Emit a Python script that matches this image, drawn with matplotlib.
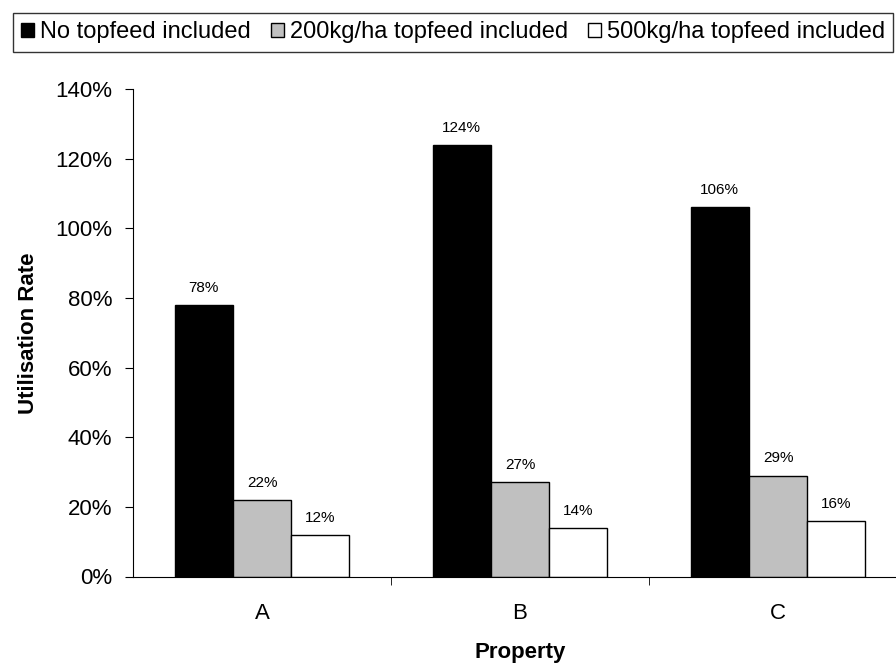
import matplotlib
matplotlib.use("Agg")
import matplotlib.pyplot as plt
import numpy as np
from matplotlib.ticker import PercentFormatter

plt.rcParams['font.family'] = ['Liberation Sans', 'DejaVu Sans']

categories = ["A", "B", "C"]
series_names = ["No topfeed included", "200kg/ha topfeed included", "500kg/ha topfeed included"]
no_topfeed = [78, 124, 106]
topfeed_200 = [22, 27, 29]
topfeed_500 = [12, 14, 16]
colors = ["#000000", "#c0c0c0", "#ffffff"]

fig = plt.figure(figsize=(8.96, 6.64), dpi=100)
ax = fig.add_axes([133/896, 1-576.5/664, 774/896, 487.5/664])

x = np.arange(len(categories))
w = 0.226
for i, (vals, name, c) in enumerate(zip([no_topfeed, topfeed_200, topfeed_500], series_names, colors)):
    bars = ax.bar(x + (i - 1) * w, vals, w, color=c, edgecolor="black", linewidth=1.0, label=name)
    for b, v in zip(bars, vals):
        ax.annotate(f"{v}%", (b.get_x() + b.get_width() / 2, v), xytext=(0, 9.5),
                    textcoords="offset points", ha="center", va="baseline", fontsize=11)

ax.set_xlim(-0.5, 2.5)
ax.set_ylim(0, 140)
ax.set_yticks(np.arange(0, 141, 20))
ax.yaxis.set_major_formatter(PercentFormatter(decimals=0))
ax.set_xticks(x)
ax.set_xticklabels(categories)
ax.set_xticks([0.5, 1.5], minor=True)
ax.tick_params(axis='x', which='major', length=0, pad=19, labelsize=16)
ax.tick_params(axis='x', which='minor', length=6, direction='out')
ax.tick_params(axis='y', length=6, direction='out', labelsize=16, pad=9)
for s in ["top", "right"]:
    ax.spines[s].set_visible(False)
ax.set_xlabel("Property", fontsize=16, fontweight="bold", labelpad=13)
ax.set_ylabel("Utilisation Rate", fontsize=16, fontweight="bold", labelpad=12)

leg = fig.legend(loc="upper left", bbox_to_anchor=(13/896, 1-13/664), ncol=3, fontsize=17,
                 frameon=True, fancybox=False, edgecolor="#333333", framealpha=1,
                 handlelength=0.55, handleheight=0.55, handletextpad=0.25, columnspacing=0.85,
                 borderpad=0.35, borderaxespad=0)
leg.get_frame().set_linewidth(1.0)

fig.savefig("out.png", dpi=100)
